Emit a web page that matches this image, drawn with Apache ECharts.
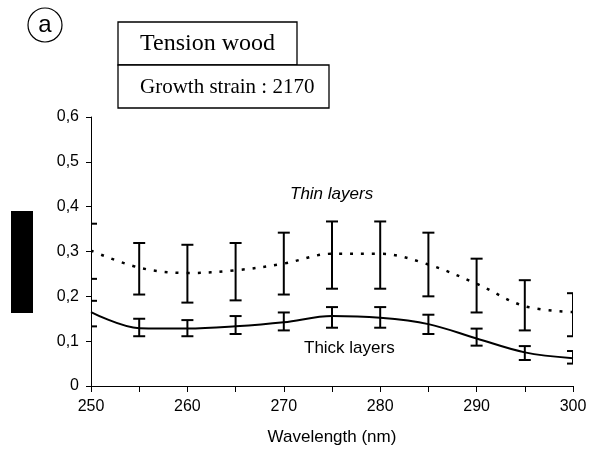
<!DOCTYPE html>
<html>
<head>
<meta charset="utf-8">
<script src="https://cdn.jsdelivr.net/npm/echarts@6/dist/echarts.min.js"></script>
<style>
  html, body { margin: 0; padding: 0; background: #fff; }
  #main { width: 591px; height: 457px; }
</style>
</head>
<body>
<div id="main"></div>
<script>
// wavelength (nm)
var wavelengths = [250, 255, 260, 265, 270, 275, 280, 285, 290, 295, 300];
// thick layers: mean and error bar ends
var thickMean = [0.165, 0.129, 0.128, 0.133, 0.142, 0.156, 0.152, 0.138, 0.106, 0.075, 0.062];
var thickLow  = [0.133, 0.111, 0.111, 0.116, 0.124, 0.130, 0.130, 0.116, 0.090, 0.058, 0.050];
var thickHigh = [0.190, 0.150, 0.147, 0.156, 0.164, 0.176, 0.176, 0.159, 0.128, 0.089, 0.078];
// thin layers
var thinMean = [0.302, 0.264, 0.252, 0.258, 0.273, 0.295, 0.295, 0.271, 0.228, 0.178, 0.165];
var thinLow  = [0.239, 0.204, 0.186, 0.191, 0.204, 0.217, 0.217, 0.200, 0.164, 0.124, 0.111];
var thinHigh = [0.362, 0.319, 0.315, 0.319, 0.342, 0.367, 0.367, 0.342, 0.284, 0.236, 0.207];
var yTicks = [0, 0.1, 0.2, 0.3, 0.4, 0.5, 0.6];

var FONT = '"Liberation Sans", Arial, sans-serif';
var SERIF = '"Liberation Serif", "Times New Roman", serif';

function pairs(xs, ys) {
    return xs.map(function (x, i) { return [x, ys[i]]; });
}
function errData(low, high) {
    return wavelengths.map(function (x, i) { return [x, low[i], high[i]]; });
}
// error bars with caps
var renderErr = function (params, api) {
    var lo = api.coord([api.value(0), api.value(1)]);
    var hi = api.coord([api.value(0), api.value(2)]);
    var w = 6;
    var st = { stroke: '#000', lineWidth: 2 };
    return {
        type: 'group',
        children: [
            { type: 'line', shape: { x1: lo[0], y1: lo[1], x2: hi[0], y2: hi[1] }, style: st },
            { type: 'line', shape: { x1: lo[0] - w, y1: lo[1], x2: lo[0] + w, y2: lo[1] }, style: st },
            { type: 'line', shape: { x1: hi[0] - w, y1: hi[1], x2: hi[0] + w, y2: hi[1] }, style: st }
        ]
    };
};

var myChart = echarts.init(document.getElementById('main'));
myChart.setOption({
    animation: false,
    backgroundColor: '#fff',
    grid: { left: 91, right: 18, top: 117, bottom: 71 },
    xAxis: {
        type: 'value',
        min: 250, max: 300, interval: 5,
        name: 'Wavelength (nm)',
        nameLocation: 'middle',
        nameGap: 43,
        nameTextStyle: { fontFamily: FONT, fontSize: 17, color: '#000' },
        axisLine: { lineStyle: { color: '#000', width: 1 } },
        axisTick: { length: 6, lineStyle: { color: '#000' } },
        axisLabel: {
            fontFamily: FONT, fontSize: 16, color: '#000', margin: 13,
            formatter: function (v) { return v % 10 === 0 ? String(v) : ''; }
        },
        splitLine: { show: false }
    },
    yAxis: {
        type: 'value',
        min: yTicks[0], max: yTicks[yTicks.length - 1], interval: 0.1,
        axisLine: { show: true, lineStyle: { color: '#000', width: 1 } },
        axisTick: { show: true, length: 5, lineStyle: { color: '#000' } },
        axisLabel: {
            fontFamily: FONT, fontSize: 16, color: '#000', margin: 12,
            formatter: function (v) { return v === 0 ? '0' : v.toFixed(1).replace('.', ','); }
        },
        splitLine: { show: false }
    },
    series: [
        {
            name: 'Thin layers',
            type: 'line',
            data: pairs(wavelengths, thinMean),
            smooth: 0.35,
            symbol: 'none',
            lineStyle: { color: '#000', width: 2.5, type: [3, 8] },
            z: 3
        },
        {
            name: 'Thick layers',
            type: 'line',
            data: pairs(wavelengths, thickMean),
            smooth: 0.35,
            symbol: 'none',
            lineStyle: { color: '#000', width: 2 },
            z: 3
        },
        {
            type: 'custom',
            renderItem: renderErr,
            data: errData(thinLow, thinHigh),
            clip: true,
            encode: { x: 0, y: [1, 2] },
            z: 4
        },
        {
            type: 'custom',
            renderItem: renderErr,
            data: errData(thickLow, thickHigh),
            clip: true,
            encode: { x: 0, y: [1, 2] },
            z: 4
        }
    ],
    graphic: [
        // panel letter
        { type: 'circle', shape: { cx: 45, cy: 25, r: 17 }, style: { fill: '#fff', stroke: '#000', lineWidth: 1.2 } },
        { type: 'text', x: 45, y: 25, style: { text: 'a', fontFamily: FONT, fontSize: 24, fill: '#000', align: 'center', verticalAlign: 'middle' } },
        // title boxes
        { type: 'rect', shape: { x: 118, y: 22, width: 179, height: 43 }, style: { fill: '#fff', stroke: '#000', lineWidth: 1.3 } },
        { type: 'text', x: 140, y: 44, style: { text: 'Tension wood', fontFamily: SERIF, fontSize: 24, fill: '#000', verticalAlign: 'middle' } },
        { type: 'rect', shape: { x: 118, y: 65, width: 211, height: 43 }, style: { fill: '#fff', stroke: '#000', lineWidth: 1.3 } },
        { type: 'text', x: 140, y: 87, style: { text: 'Growth strain : 2170', fontFamily: SERIF, fontSize: 21, fill: '#000', verticalAlign: 'middle' } },
        // black bar on the left
        { type: 'rect', shape: { x: 11, y: 211, width: 22, height: 102 }, style: { fill: '#000' } },
        // curve labels
        { type: 'text', x: 290, y: 194, style: { text: 'Thin layers', fontFamily: FONT, fontStyle: 'italic', fontSize: 17, fill: '#000', verticalAlign: 'middle' } },
        { type: 'text', x: 304, y: 348, style: { text: 'Thick layers', fontFamily: FONT, fontSize: 17, fill: '#000', verticalAlign: 'middle' } }
    ]
});
</script>
</body>
</html>
